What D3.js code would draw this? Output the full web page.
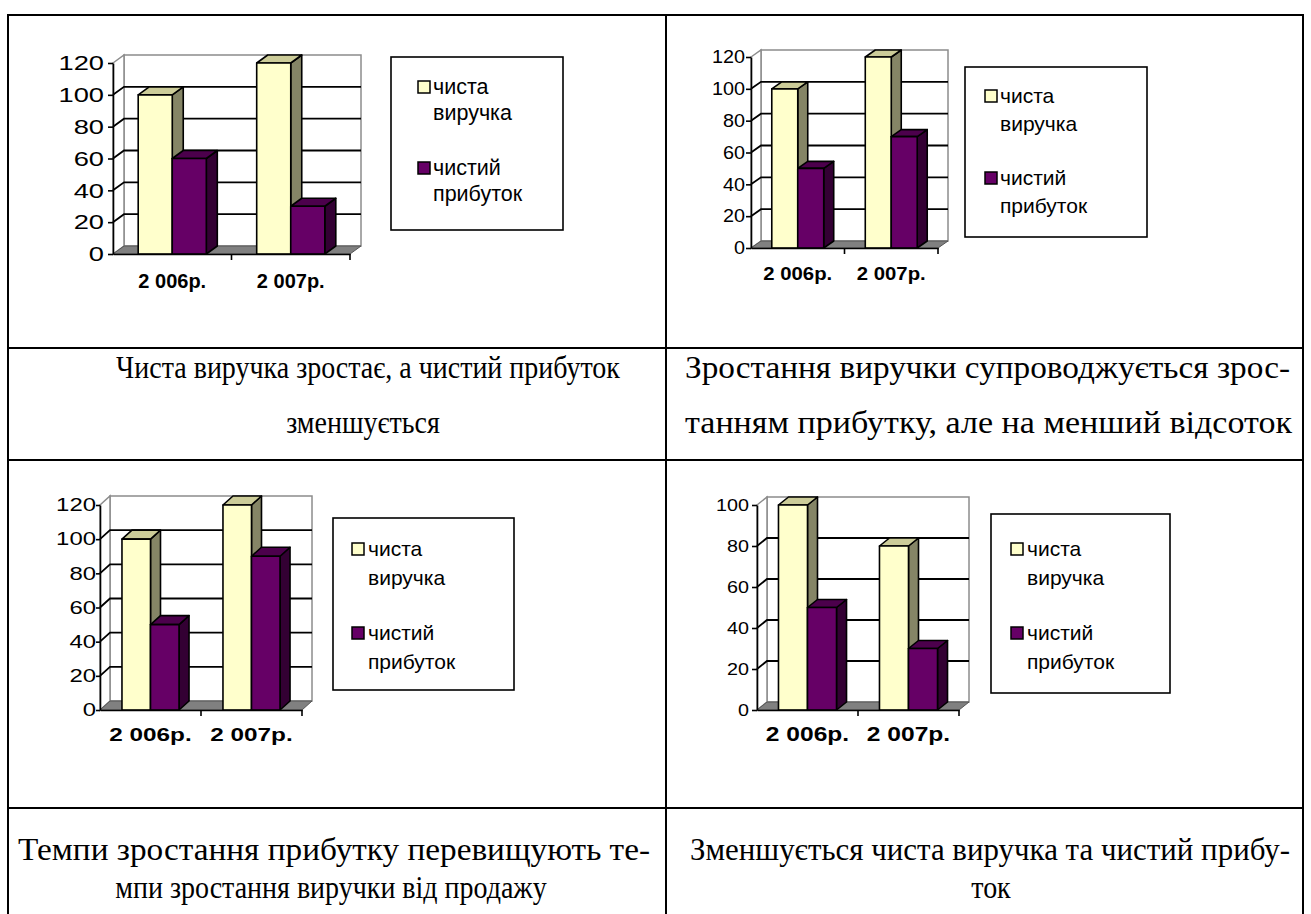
<!DOCTYPE html>
<html>
<head>
<meta charset="utf-8">
<script src="https://cdn.jsdelivr.net/npm/d3@7"></script>
<style>
  html, body { margin: 0; padding: 0; background: #fff; }
  svg { display: block; }
</style>
</head>
<body>
<svg id="page" width="1311" height="914"></svg>
<script>
// ---- data ----
const years = ["2 006р.", "2 007р."];
const seriesNames = ["чиста виручка", "чистий прибуток"];
const legendLines = [["чиста", "виручка"], ["чистий", "прибуток"]];

const revenueA = [100, 120];
const profitA  = [60, 30];
const revenueB = [100, 120];
const profitB  = [50, 70];
const revenueC = [100, 120];
const profitC  = [50, 90];
const revenueD = [100, 80];
const profitD  = [50, 30];

const ticks120 = [0, 20, 40, 60, 80, 100, 120];
const ticks100 = [0, 20, 40, 60, 80, 100];

const captionA = ["Чиста виручка зростає, а чистий прибуток", "зменшується"];
const captionB = ["Зростання виручки супроводжується зрос-", "танням прибутку, але на менший відсоток"];
const captionC = ["Темпи зростання прибутку перевищують те-", "мпи зростання виручки від продажу"];
const captionD = ["Зменшується чиста виручка та чистий прибу-", "ток"];

// ---- styles ----
const colors = {
  front: ["#FFFFCC", "#660066"],
  top:   ["#CCCC99", "#4C004C"],
  side:  ["#858566", "#330033"]
};
const SANS = "'Liberation Sans', Arial, sans-serif";
const SERIF = "'Liberation Serif', 'Times New Roman', serif";
const CAPTION_SIZE = 32;     // tall, slightly condensed caption type
const CAPTION_SX = 0.875;

const svg = d3.select("#page");

// ---- table grid ----
const tbl = { left: 8, mid: 666, right: 1303, top: 15, rows: [348, 460, 808], bottom: 930 };
const grid = svg.append("g").attr("stroke", "#000").attr("stroke-width", 2);
grid.append("line").attr("x1", tbl.left).attr("x2", tbl.right).attr("y1", tbl.top).attr("y2", tbl.top);
tbl.rows.forEach(y => grid.append("line").attr("x1", tbl.left).attr("x2", tbl.right).attr("y1", y).attr("y2", y));
[tbl.left, tbl.mid, tbl.right].forEach(x => grid.append("line").attr("x1", x).attr("x2", x).attr("y1", tbl.top - 1).attr("y2", tbl.bottom));

// ---- captions: a justified line is fitted to [x1, x2]; a centred line sits on cx ----
function captionLine(text, y, opts) {
  const t = svg.append("text")
    .attr("font-family", SERIF).attr("font-size", CAPTION_SIZE).attr("fill", "#000")
    .attr("y", y).text(text);
  if (opts.justify) {
    const [x1, x2] = opts.justify;
    t.attr("x", x1).attr("textLength", x2 - x1).attr("lengthAdjust", "spacingAndGlyphs");
  } else {
    t.attr("x", opts.cx / CAPTION_SX).attr("text-anchor", "middle")
      .attr("transform", `scale(${CAPTION_SX},1)`);
  }
}
captionLine(captionA[0], 378, { cx: 368 });
captionLine(captionA[1], 433, { cx: 363 });
captionLine(captionB[0], 378, { justify: [685, 1290] });
captionLine(captionB[1], 433, { justify: [685, 1292] });
captionLine(captionC[0], 860, { justify: [18, 650] });
captionLine(captionC[1], 898, { cx: 331 });
captionLine(captionD[0], 860, { justify: [690, 1290] });
captionLine(captionD[1], 898, { cx: 991 });

// ---- 3D clustered column chart ----
function columnChart(cfg, values, ticks) {
  const g = svg.append("g");
  const dx = cfg.dx, dy = cfg.dy;
  const y = d3.scaleLinear().domain([0, d3.max(ticks)]).range([cfg.y0, cfg.yTop]);
  const x0 = d3.scaleBand().domain(years).range([cfg.x, cfg.xEnd]).padding(0);
  const x1 = d3.scaleBand().domain(seriesNames).range([0, x0.bandwidth()])
    .paddingInner(0).paddingOuter(cfg.outer);

  const x0L = cfg.x, x0R = cfg.xEnd, yb = y(0), yt = y(d3.max(ticks));

  // back wall and side wall
  g.append("rect")
    .attr("x", x0L + dx).attr("y", yt + dy)
    .attr("width", x0R - x0L).attr("height", yb - yt)
    .attr("fill", "#fff").attr("stroke", "#8c8c8c").attr("stroke-width", 1.5);
  g.append("path")
    .attr("d", `M${x0L},${yt}L${x0L + dx},${yt + dy}L${x0L + dx},${yb + dy}L${x0L},${yb}Z`)
    .attr("fill", "#fff").attr("stroke", "#8c8c8c").attr("stroke-width", 1.5);

  // gridlines across side wall and back wall
  ticks.filter(t => t > 0 && t < d3.max(ticks)).forEach(t => {
    g.append("path")
      .attr("d", `M${x0L},${y(t)}L${x0L + dx},${y(t) + dy}L${x0R + dx},${y(t) + dy}`)
      .attr("fill", "none").attr("stroke", "#000").attr("stroke-width", 1.8);
  });

  // floor
  g.append("path")
    .attr("d", `M${x0L},${yb}L${x0L + dx},${yb + dy}L${x0R + dx},${yb + dy}L${x0R},${yb}Z`)
    .attr("fill", "#808080").attr("stroke", "#555").attr("stroke-width", 1);

  // bars
  years.forEach((yr, i) => {
    seriesNames.forEach((s, k) => {
      const v = values[k][i];
      const bx = x0(yr) + x1(s), bw = x1.bandwidth(), by = y(v);
      const bar = g.append("g").attr("stroke", "#000").attr("stroke-width", 1.6).attr("stroke-linejoin", "round");
      bar.append("path")
        .attr("d", `M${bx + bw},${by}L${bx + bw + dx},${by + dy}L${bx + bw + dx},${yb + dy}L${bx + bw},${yb}Z`)
        .attr("fill", colors.side[k]);
      bar.append("path")
        .attr("d", `M${bx},${by}L${bx + dx},${by + dy}L${bx + bw + dx},${by + dy}L${bx + bw},${by}Z`)
        .attr("fill", colors.top[k]);
      bar.append("rect")
        .attr("x", bx).attr("y", by).attr("width", bw).attr("height", yb - by)
        .attr("fill", colors.front[k]);
    });
  });

  // value axis
  const yAxis = g.append("g").attr("transform", `translate(${x0L},0)`)
    .call(d3.axisLeft(y).tickValues(ticks).tickSize(cfg.tickLen).tickSizeOuter(0));
  yAxis.select(".domain").attr("stroke", "#000").attr("stroke-width", 1.6);
  yAxis.selectAll(".tick line").attr("stroke", "#000").attr("stroke-width", 1.6);
  yAxis.selectAll("text")
    .attr("font-family", SANS).attr("font-size", cfg.tickFont).attr("fill", "#000")
    .attr("x", -cfg.tickGap / cfg.tickSX)
    .attr("transform", `scale(${cfg.tickSX},1)`);

  // category axis
  const xAxis = g.append("g").attr("transform", `translate(0,${yb})`)
    .call(d3.axisBottom(x0).tickSize(0).tickPadding(cfg.labelPad));
  xAxis.select(".domain").attr("stroke", "#000").attr("stroke-width", 1.6);
  xAxis.selectAll("text")
    .attr("font-family", SANS).attr("font-weight", "bold")
    .attr("font-size", cfg.catFont).attr("fill", "#000")
    .attr("transform", `scale(${cfg.catSX},1)`);
  // tick marks between categories
  const bounds = years.map(yr => x0(yr) + x0.bandwidth());
  g.selectAll(null).data(bounds).join("line")
    .attr("x1", d => d).attr("x2", d => d).attr("y1", yb).attr("y2", yb + 6)
    .attr("stroke", "#000").attr("stroke-width", 1.6);

  // legend
  const L = cfg.legend;
  const lg = g.append("g");
  lg.append("rect").attr("x", L.x).attr("y", L.y).attr("width", L.w).attr("height", L.h)
    .attr("fill", "#fff").attr("stroke", "#000").attr("stroke-width", 1.6);
  seriesNames.forEach((s, k) => {
    const base = L.y + L.rows[k];
    lg.append("rect")
      .attr("x", L.x + L.sw).attr("y", base - L.sq - 1).attr("width", L.sq).attr("height", L.sq)
      .attr("fill", colors.front[k]).attr("stroke", "#000").attr("stroke-width", 1.5);
    const t = lg.append("text")
      .attr("font-family", SANS).attr("font-size", L.font).attr("fill", "#000");
    legendLines[k].forEach((ln, j) => {
      t.append("tspan").attr("x", L.x + L.tx).attr("y", base + j * L.lh).text(ln);
    });
  });
}

columnChart({
  x: 113, xEnd: 350, y0: 254, yTop: 63, dx: 11, dy: -8, outer: 0.74,
  tickFont: 21, tickSX: 1.3, tickLen: 5, tickGap: 9,
  catFont: 20, catSX: 1.0, labelPad: 20,
  legend: { x: 391, y: 57, w: 172, h: 173, sw: 27, tx: 42, sq: 12, font: 21.5, lh: 26, rows: [37, 118] }
}, [revenueA, profitA], ticks120);

columnChart({
  x: 751, xEnd: 938, y0: 248, yTop: 57, dx: 10, dy: -7, outer: 0.8,
  tickFont: 18, tickSX: 1.1, tickLen: 5, tickGap: 6,
  catFont: 19, catSX: 1.07, labelPad: 19,
  legend: { x: 965, y: 67, w: 182, h: 170, sw: 20, tx: 35, sq: 12, font: 21, lh: 28, rows: [36, 118] }
}, [revenueB, profitB], ticks120);

columnChart({
  x: 100, xEnd: 302, y0: 710, yTop: 505, dx: 10, dy: -9, outer: 0.77,
  tickFont: 18, tickSX: 1.33, tickLen: 4, tickGap: 4,
  catFont: 18, catSX: 1.35, labelPad: 18,
  legend: { x: 333, y: 518, w: 181, h: 172, sw: 19, tx: 35, sq: 12, font: 21, lh: 29, rows: [38, 122] }
}, [revenueC, profitC], ticks120);

columnChart({
  x: 757, xEnd: 959, y0: 710, yTop: 505, dx: 10, dy: -8, outer: 0.74,
  tickFont: 17, tickSX: 1.16, tickLen: 5, tickGap: 8,
  catFont: 21, catSX: 1.17, labelPad: 16,
  legend: { x: 991, y: 514, w: 179, h: 179, sw: 20, tx: 36, sq: 12, font: 21, lh: 29, rows: [42, 126] }
}, [revenueD, profitD], ticks100);
</script>
</body>
</html>
